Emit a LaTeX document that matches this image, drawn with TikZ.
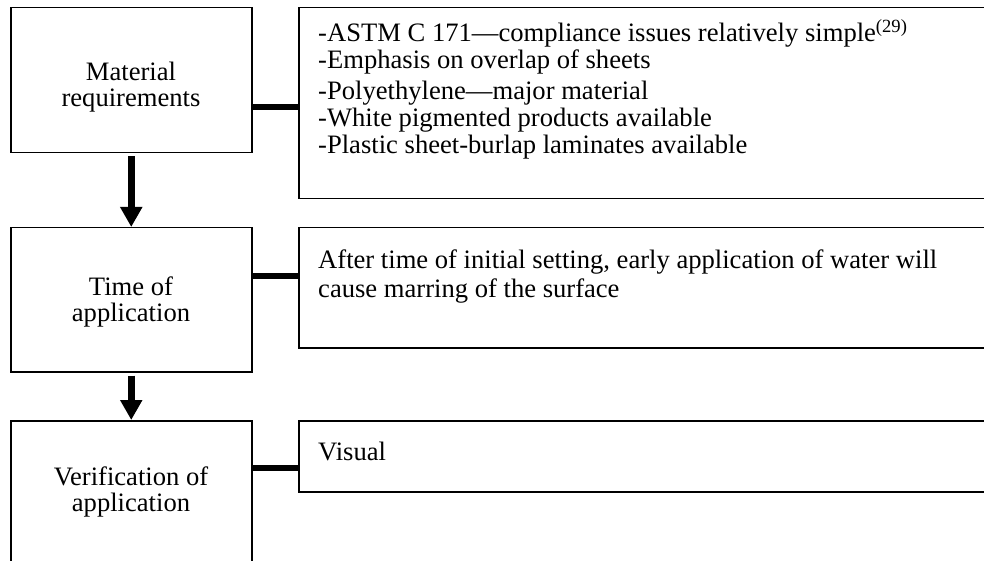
\documentclass[tikz,border=0pt]{standalone}
\usepackage{fontspec}
\setmainfont{Liberation Serif}
\usetikzlibrary{arrows.meta}
\tikzset{
  box/.style={draw=black, line width=1.5pt, rectangle, inner sep=0pt, anchor=north west},
  lbl/.style={inner sep=0pt, anchor=base, font=\fontsize{26.6}{25}\selectfont, align=center},
  rtxt/.style={inner sep=0pt, anchor=base west, font=\fontsize{26.6}{26}\selectfont},
  conn/.style={line width=6pt},
  flow/.style={line width=7pt, -{Triangle[width=21pt,length=20pt]}}
}
\begin{document}
\begin{tikzpicture}[x=1pt,y=-1pt]
\clip (0,0) rectangle (984,561);
\fill[white] (0,0) rectangle (984,561);
% left boxes
\node[box, minimum width=241pt, minimum height=145pt] (mat) at (10,7) {};
\node[box, minimum width=241pt, minimum height=144pt] (tim) at (10,227) {};
\node[box, minimum width=241pt, minimum height=180pt] (ver) at (10,420) {};
% right boxes
\node[box, minimum width=710pt, minimum height=191pt] (matR) at (298,7) {};
\node[box, minimum width=710pt, minimum height=120pt] (timR) at (298,227) {};
\node[box, minimum width=710pt, minimum height=71pt] (verR) at (298,420) {};
% left labels
\node[lbl] (matA) at (131,81) {Material};
\node[lbl] (matB) at (131,107) {requirements};
\node[lbl] (timA) at (131,295) {Time of};
\node[lbl] (timB) at (131,321) {application};
\node[lbl] (verA) at (131,485) {Verification of};
\node[lbl] (verB) at (131,511) {application};
% right texts
\node[rtxt] (r1) at (318,42) {-ASTM C 171---compliance issues relatively simple\textsuperscript{(29)}};
\node[rtxt] (r2) at (318,69) {-Emphasis on overlap of sheets};
\node[rtxt] (r3) at (318,100) {-Polyethylene---major material};
\node[rtxt] (r4) at (318,127) {-White pigmented products available};
\node[rtxt] (r5) at (318,154) {-Plastic sheet-burlap laminates available};
\node[rtxt] (s1) at (318,268) {After time of initial setting, early application of water will};
\node[rtxt] (s2) at (318,297) {cause marring of the surface};
\node[rtxt] (v1) at (318,460) {Visual};
% connectors
\draw[conn] ([yshift=-26.5pt]mat.east) -- ([yshift=-26.5pt]mat.east -| matR.west);
\draw[conn] ([yshift=24pt]tim.east) -- ([yshift=24pt]tim.east -| timR.west);
\draw[conn] ([yshift=-11.5pt]verR.west -| ver.east) -- ([yshift=-11.5pt]verR.west);
% arrows
\draw[flow] ([yshift=-3pt]mat.south) -- (tim.north);
\draw[flow] ([yshift=-3pt]tim.south) -- (ver.north);
\end{tikzpicture}
\end{document}
